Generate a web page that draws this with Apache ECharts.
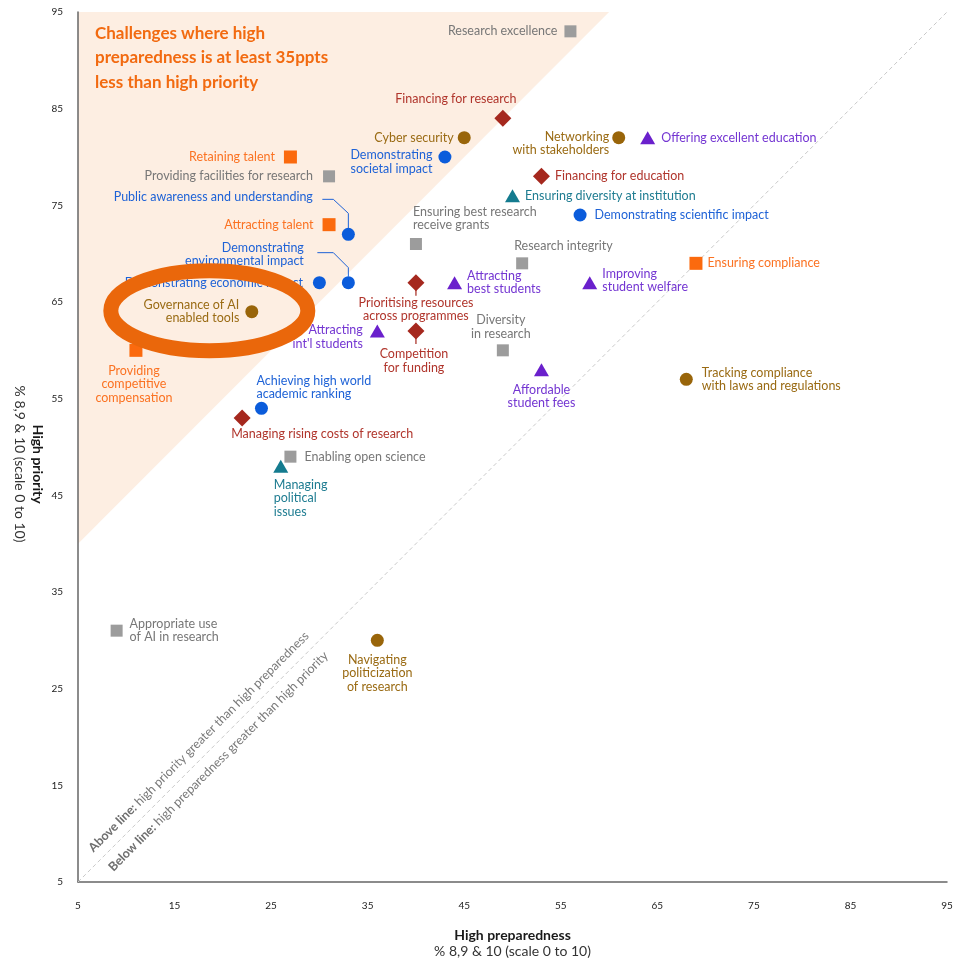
<!DOCTYPE html>
<html><head><meta charset="utf-8">
<script src="https://cdn.jsdelivr.net/npm/echarts@6/dist/echarts.min.js"></script>
<style>html,body{margin:0;padding:0;background:#fff}#c{width:967px;height:960px}</style>
</head><body><div id="c"></div>
<script>
// ---------- data ----------
const axisMin = 5, axisMax = 95, axisStep = 10;
const gapThreshold = 35; // ppts: priority - preparedness

const grayNames = ['Research excellence', 'Providing facilities for research', 'Ensuring best research\nreceive grants', 'Research integrity', 'Diversity\nin research', 'Enabling open science', 'Appropriate use\nof AI in research'];
const grayPrep = [56, 31, 40, 51, 49, 27, 9];
const grayPrio = [93, 78, 71, 69, 60, 49, 31];

const orangeNames = ['Retaining talent', 'Attracting talent', 'Ensuring compliance', 'Providing\ncompetitive\ncompensation'];
const orangePrep = [27, 31, 69, 11];
const orangePrio = [80, 73, 69, 60];

const brownNames = ['Cyber security', 'Networking\nwith stakeholders', 'Governance of AI\nenabled tools', 'Tracking compliance\nwith laws and regulations', 'Navigating\npoliticization\nof research'];
const brownPrep = [45, 61, 23, 68, 36];
const brownPrio = [82, 82, 64, 57, 30];

const redNames = ['Financing for research', 'Financing for education', 'Prioritising resources\nacross programmes', 'Competition\nfor funding', 'Managing rising costs of research'];
const redPrep = [49, 53, 40, 40, 22];
const redPrio = [84, 78, 67, 62, 53];

const blueNames = ['Demonstrating\nsocietal impact', 'Public awareness and understanding', 'Demonstrating scientific impact', 'Demonstrating\nenvironmental impact', 'Demonstrating economic impact', 'Achieving high world\nacademic ranking'];
const bluePrep = [43, 33, 57, 33, 30, 24];
const bluePrio = [80, 72, 74, 67, 67, 54];

const purpleNames = ['Offering excellent education', 'Attracting\nbest students', 'Improving\nstudent welfare', "Attracting\nint'l students", 'Affordable\nstudent fees'];
const purplePrep = [64, 44, 58, 36, 53];
const purplePrio = [82, 67, 67, 62, 58];

const tealNames = ['Ensuring diversity at institution', 'Managing\npolitical\nissues'];
const tealPrep = [50, 26];
const tealPrio = [76, 48];

const titleText = 'Challenges where high\npreparedness is at least 35ppts\nless than high priority';
const xTitle = 'High preparedness';
const yTitle = 'High priority';
const axisSub = '% 8,9 & 10 (scale 0 to 10)';
const aboveText = 'Above line:';
const aboveRest = ' high priority greater than high preparedness';
const belowText = 'Below line:';
const belowRest = ' high preparedness greater than high priority';

// ---------- label placement ----------
const labelPlace = {
  'Research excellence': {position: 'left', distance: 7},
  'Providing facilities for research': {position: 'left', distance: 10},
  'Ensuring best research\nreceive grants': {position: 'top', align: 'left', offset: [-3, -1], distance: 5},
  'Research integrity': {position: 'top', align: 'left', offset: [-8, 0], distance: 5},
  'Diversity\nin research': {position: 'top', offset: [-2, 0], distance: 4},
  'Enabling open science': {position: 'right', distance: 8},
  'Appropriate use\nof AI in research': {position: 'right', distance: 7},
  'Retaining talent': {position: 'left', distance: 9},
  'Attracting talent': {position: 'left', distance: 9},
  'Ensuring compliance': {position: 'right', distance: 5},
  'Providing\ncompetitive\ncompensation': {position: 'bottom', offset: [-2, 0], distance: 7},
  'Cyber security': {position: 'left', distance: 4},
  'Networking\nwith stakeholders': {position: 'left', offset: [0, 6], distance: 3},
  'Governance of AI\nenabled tools': {position: 'left', distance: 6},
  'Tracking compliance\nwith laws and regulations': {position: 'right', align: 'left', distance: 9},
  'Navigating\npoliticization\nof research': {position: 'bottom', distance: 6},
  'Financing for research': {position: 'top', offset: [-47, 1], distance: 5},
  'Financing for education': {position: 'right', distance: 5},
  'Prioritising resources\nacross programmes': {position: 'bottom', distance: 5},
  'Competition\nfor funding': {position: 'bottom', offset: [-2, 0], distance: 8},
  'Managing rising costs of research': {position: 'bottom', align: 'left', offset: [-11, 0], distance: 1},
  'Demonstrating\nsocietal impact': {position: 'left', offset: [0, 5], distance: 6},
  'Public awareness and understanding': {position: 'left', offset: [-24, -37], distance: 5},
  'Demonstrating scientific impact': {position: 'right', distance: 8},
  'Demonstrating\nenvironmental impact': {position: 'left', offset: [0, -28], distance: 38},
  'Demonstrating economic impact': {position: 'left', distance: 10},
  'Achieving high world\nacademic ranking': {position: 'top', align: 'left', offset: [-5, 0], distance: 1},
  'Offering excellent education': {position: 'right', distance: 6},
  'Attracting\nbest students': {position: 'right', distance: 5},
  'Improving\nstudent welfare': {position: 'right', offset: [0, -2], distance: 5},
  "Attracting\nint'l students": {position: 'left', offset: [0, 6], distance: 7},
  'Affordable\nstudent fees': {position: 'bottom', distance: 7},
  'Ensuring diversity at institution': {position: 'right', distance: 5},
  'Managing\npolitical\nissues': {position: 'bottom', align: 'left', offset: [-7, 0], distance: 5}
};

const FONT = 'Lato, "Open Sans", sans-serif';

function group(names, xs, ys, symbol, size, color, textColor) {
  return {
    type: 'scatter',
    symbol: symbol,
    symbolSize: size,
    itemStyle: {color: color, opacity: 1},
    z: 5,
    data: names.map((n, i) => ({
      name: n,
      value: [xs[i], ys[i]],
      label: Object.assign({show: true, formatter: '{b}'}, labelPlace[n] || {position: 'right'})
    })),
    label: {
      show: true, color: textColor, fontSize: 12.5, lineHeight: 13.5,
      fontFamily: FONT, formatter: '{b}'
    },
    emphasis: {disabled: true}
  };
}

const chart = echarts.init(document.getElementById('c'), null, {renderer: 'canvas'});

const option = {
  animation: false,
  backgroundColor: '#ffffff',
  grid: {left: 78, right: 20, top: 12, bottom: 78, containLabel: false},
  xAxis: {
    type: 'value', min: axisMin, max: axisMax, interval: axisStep,
    axisLine: {show: true, lineStyle: {color: '#666', width: 1.5}},
    axisTick: {show: false}, splitLine: {show: false},
    axisLabel: {color: '#222', fontSize: 10, margin: 19, fontFamily: FONT}
  },
  yAxis: {
    type: 'value', min: axisMin, max: axisMax, interval: axisStep,
    axisLine: {show: true, lineStyle: {color: '#666', width: 1.5}},
    axisTick: {show: false}, splitLine: {show: false},
    axisLabel: {color: '#222', fontSize: 10, margin: 15, fontFamily: FONT}
  },
  series: [
    {
      type: 'custom', silent: true, z: 0,
      data: [[axisMin, axisMin + gapThreshold, axisMax - gapThreshold, axisMax]],
      renderItem: function (params, api) {
        const p1 = api.coord([axisMin, axisMin + gapThreshold]);
        const p2 = api.coord([axisMin, axisMax]);
        const p3 = api.coord([axisMax - gapThreshold, axisMax]);
        return {type: 'polygon', shape: {points: [p1, p2, p3]}, style: {fill: '#fdeee2'}};
      }
    },
    {
      type: 'line', silent: true, z: 1, symbol: 'none',
      data: [[axisMin, axisMin], [axisMax, axisMax]],
      lineStyle: {color: '#c9c9c9', width: 1, type: [4, 3]}
    },
    group(grayNames, grayPrep, grayPrio, 'rect', 12, '#9c9c9c', '#777777'),
    group(orangeNames, orangePrep, orangePrio, 'rect', 13, '#fb6a0e', '#fb7222'),
    group(brownNames, brownPrep, brownPrio, 'circle', 13, '#99650a', '#9a6b14'),
    group(redNames, redPrep, redPrio, 'diamond', 17, '#a5281e', '#b0352c'),
    group(blueNames, bluePrep, bluePrio, 'circle', 13, '#0b5cdb', '#1e62d6'),
    group(purpleNames, purplePrep, purplePrio, 'triangle', [15, 13], '#6a20cc', '#7436d2'),
    group(tealNames, tealPrep, tealPrio, 'triangle', [15, 13], '#147b8f', '#1e7c91')
  ]
};
chart.setOption(option);

// ---------- annotations anchored to data coordinates ----------
function px(v) { return chart.convertToPixel({gridIndex: 0}, v); }
const g = [];

// title in the shaded zone
const tl = px([axisMin, axisMax]);
g.push({type: 'text', x: tl[0] + 17, y: tl[1] + 9, z: 20,
  style: {text: titleText, fill: '#f26a10', font: 'bold 17px ' + FONT, lineHeight: 24.5, align: 'left', verticalAlign: 'top'}});

// leader lines
const pa = px([bluePrep[1], bluePrio[1]]);
g.push({type: 'polyline', z: 20, shape: {points: [[pa[0] - 26, pa[1] - 35], [pa[0] - 15, pa[1] - 35], [pa[0], pa[1] - 21], [pa[0], pa[1] - 6]]},
  style: {stroke: '#1e62d6', lineWidth: 1, fill: null}});
const pe = px([bluePrep[3], bluePrio[3]]);
g.push({type: 'polyline', z: 20, shape: {points: [[pe[0] - 31, pe[1] - 30], [pe[0] - 15, pe[1] - 30], [pe[0], pe[1] - 15], [pe[0], pe[1] - 6]]},
  style: {stroke: '#1e62d6', lineWidth: 1, fill: null}});
// stems under diamonds
[2, 3].forEach(function (i) {
  const p = px([redPrep[i], redPrio[i]]);
  g.push({type: 'line', z: 20, shape: {x1: p[0], y1: p[1] + 7, x2: p[0], y2: p[1] + 13}, style: {stroke: '#a5281e', lineWidth: 1.2}});
});

// diagonal notes
const dc = px([18.5, 18.5]);
g.push({type: 'text', x: dc[0] - 9.6, y: dc[1] - 9.6, rotation: Math.PI / 4, z: 20,
  style: {text: '{b|' + aboveText + '}' + aboveRest, rich: {b: {fontWeight: 'bold', fill: '#6f6f6f', fontSize: 12.5, fontFamily: FONT}},
    fill: '#7a7a7a', fontSize: 12.5, fontFamily: FONT, align: 'center', verticalAlign: 'middle'}});
g.push({type: 'text', x: dc[0] + 9.9, y: dc[1] + 9.9, rotation: Math.PI / 4, z: 20,
  style: {text: '{b|' + belowText + '}' + belowRest, rich: {b: {fontWeight: 'bold', fill: '#6f6f6f', fontSize: 12.5, fontFamily: FONT}},
    fill: '#7a7a7a', fontSize: 12.5, fontFamily: FONT, align: 'center', verticalAlign: 'middle'}});

// highlight ellipse around Governance of AI
const ec = px([18.6, 64.1]);
g.push({type: 'ellipse', z: 30, shape: {cx: ec[0], cy: ec[1], rx: 98.5, ry: 40}, style: {fill: null, stroke: '#ea670b', lineWidth: 15}});

// axis titles
const bl = px([axisMin, axisMin]);
const tr = px([axisMax, axisMax]);
const midX = (bl[0] + tr[0]) / 2;
g.push({type: 'text', x: midX, y: bl[1] + 53, z: 20, style: {text: xTitle, fill: '#1a1a1a', font: 'bold 14px ' + FONT, align: 'center', verticalAlign: 'middle'}});
g.push({type: 'text', x: midX, y: bl[1] + 69, z: 20, style: {text: axisSub, fill: '#333', font: '14px ' + FONT, align: 'center', verticalAlign: 'middle'}});
g.push({type: 'text', x: 38, y: 464, rotation: -Math.PI / 2, z: 20, style: {text: yTitle, fill: '#1a1a1a', font: 'bold 14px ' + FONT, align: 'center', verticalAlign: 'middle'}});
g.push({type: 'text', x: 20, y: 464, rotation: -Math.PI / 2, z: 20, style: {text: axisSub, fill: '#333', font: '14px ' + FONT, align: 'center', verticalAlign: 'middle'}});

chart.setOption({graphic: g});
</script></body></html>
